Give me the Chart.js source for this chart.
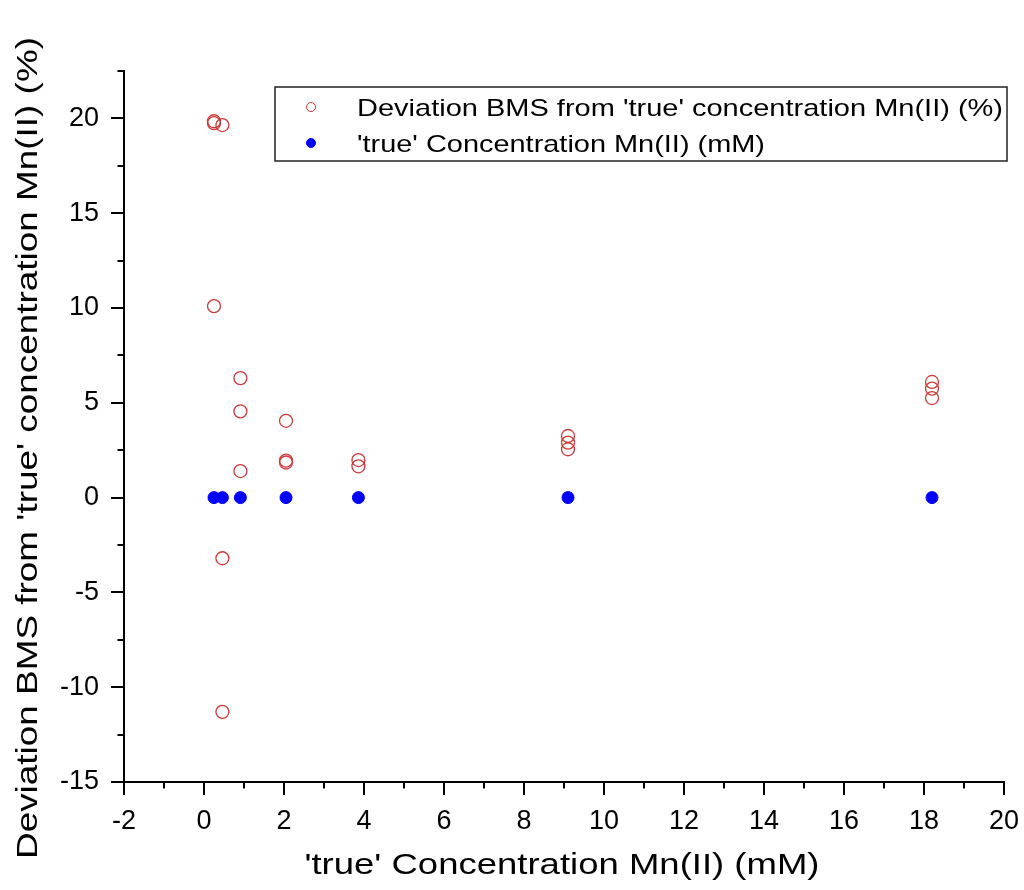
<!DOCTYPE html>
<html>
<head>
<meta charset="utf-8">
<script src="https://cdn.jsdelivr.net/npm/chart.js@4.4.1/dist/chart.umd.min.js"></script>
<style>
  html, body { margin: 0; padding: 0; background: #fff; }
  #wrap { width: 1024px; height: 890px; }
</style>
</head>
<body>
<div id="wrap"><canvas id="c" width="1024" height="890"></canvas></div>
<script>
// 'true' Mn(II) concentrations (mM) and the BMS deviation measured at each
const devX = [0.25, 0.25, 0.46, 0.25, 0.46, 0.46, 0.91, 0.91, 0.91, 2.05, 2.05, 2.05, 3.86, 3.86, 9.1, 9.1, 9.1, 18.2, 18.2, 18.2];
const devY = [19.85, 19.75, 19.65, 10.1, -3.2, -11.3, 6.3, 4.55, 1.4, 4.05, 1.95, 1.85, 1.98, 1.65, 3.25, 2.9, 2.55, 6.1, 5.75, 5.25];
const concX = [0.25, 0.46, 0.91, 2.05, 3.86, 9.1, 18.2];
const concY = [0, 0, 0, 0, 0, 0, 0];

const xTicks = [-2, 0, 2, 4, 6, 8, 10, 12, 14, 16, 18, 20];
const yTicks = [-15, -10, -5, 0, 5, 10, 15, 20];

const seriesLabels = ["Deviation BMS from 'true' concentration Mn(II) (%)", "'true' Concentration Mn(II) (mM)"];
const xTitle = "'true' Concentration Mn(II) (mM)";
const yTitle = "Deviation BMS from 'true' concentration Mn(II) (%)";

const FONT = "'Liberation Sans', Arial, sans-serif";
const RED = '#c83a3a';
const BLUE = '#0000ff';

const toPts = (xs, ys) => xs.map((x, i) => ({ x: x, y: ys[i] }));

// text drawn with a horizontal stretch so that it spans a given length
function wideText(ctx, text, size, cx, cy, span, align, angle) {
  ctx.save();
  ctx.font = size + 'px ' + FONT;
  const w = ctx.measureText(text).width;
  const k = span / w;
  ctx.translate(cx, cy);
  ctx.rotate(angle || 0);
  ctx.scale(k, 1);
  ctx.fillStyle = '#000';
  ctx.textBaseline = 'alphabetic';
  ctx.textAlign = align;
  ctx.fillText(text, 0, 0);
  ctx.restore();
}

// outward tick marks: long for labelled values, short for the minor ones
const tickMarks = {
  id: 'tickMarks',
  afterDraw(chart) {
    const ctx = chart.ctx;
    ctx.save();
    ctx.strokeStyle = '#000';
    ctx.lineWidth = 2;
    const xs = chart.scales.x, ys = chart.scales.y;
    xs.ticks.forEach(t => {
      const px = Math.round(xs.getPixelForValue(t.value));
      const len = xTicks.includes(t.value) ? 13 : 6.5;
      ctx.beginPath();
      ctx.moveTo(px, xs.top);
      ctx.lineTo(px, xs.top + len);
      ctx.stroke();
    });
    ys.ticks.forEach(t => {
      const py = Math.round(ys.getPixelForValue(t.value));
      const len = yTicks.includes(t.value) ? 13 : 6.5;
      ctx.beginPath();
      ctx.moveTo(ys.right, py);
      ctx.lineTo(ys.right - len, py);
      ctx.stroke();
    });
    ctx.restore();
  }
};

// axis titles
const axisTitles = {
  id: 'axisTitles',
  afterDraw(chart) {
    const ctx = chart.ctx;
    wideText(ctx, xTitle, 30, 562, 874, 515, 'center', 0);
    wideText(ctx, yTitle, 30, 37, 448, 822, 'center', -Math.PI / 2);
  }
};

// boxed legend inside the plot area
const boxLegend = {
  id: 'boxLegend',
  afterDraw(chart) {
    const ctx = chart.ctx;
    const left = 275, top = 87, width = 732, height = 74, rowH = 36;
    const sets = chart.data.datasets;
    ctx.save();
    ctx.fillStyle = '#fff';
    ctx.fillRect(left, top, width, height);
    ctx.strokeStyle = '#222';
    ctx.lineWidth = 1.5;
    ctx.strokeRect(left, top, width, height);
    ctx.restore();
    const spans = [646, 408];
    sets.forEach((ds, i) => {
      const cy = top + 20 + i * rowH;
      ctx.save();
      ctx.fillStyle = ds.backgroundColor;
      ctx.strokeStyle = ds.borderColor;
      Chart.helpers.drawPoint(ctx, { pointStyle: 'circle', radius: 4.5, borderWidth: 1 }, 311, cy);
      ctx.restore();
      wideText(ctx, ds.label, 24, 357, cy + 8.5, spans[i], 'left', 0);
    });
  }
};

new Chart(document.getElementById('c'), {
  type: 'scatter',
  data: {
    datasets: [
      {
        label: seriesLabels[0],
        data: toPts(devX, devY),
        pointRadius: 6.5,
        pointHoverRadius: 6.5,
        pointBorderWidth: 1.3,
        borderColor: RED,
        backgroundColor: 'rgba(255,255,255,0)',
        pointBackgroundColor: 'rgba(255,255,255,0)'
      },
      {
        label: seriesLabels[1],
        data: toPts(concX, concY),
        pointRadius: 6,
        pointHoverRadius: 6,
        pointBorderWidth: 1,
        borderColor: BLUE,
        backgroundColor: BLUE
      }
    ]
  },
  options: {
    responsive: false,
    animation: false,
    events: [],
    layout: { padding: { top: 71, right: 5, left: 0, bottom: 0 } },
    plugins: { legend: { display: false }, tooltip: { enabled: false } },
    scales: {
      x: {
        type: 'linear',
        min: -2, max: 20,
        grid: { display: false, drawTicks: false },
        border: { display: true, color: '#000', width: 2 },
        ticks: {
          stepSize: 1,
          autoSkip: false,
          maxRotation: 0,
          padding: 23,
          color: '#000',
          font: { family: FONT, size: 27 },
          callback: v => (xTicks.includes(v) ? String(v) : '')
        },
        afterFit: s => { s.height = 108; s.paddingRight = 20; s.paddingLeft = 0; }
      },
      y: {
        type: 'linear',
        min: -15, max: 22.5,
        grid: { display: false, drawTicks: false },
        border: { display: true, color: '#000', width: 2 },
        ticks: {
          stepSize: 2.5,
          autoSkip: false,
          padding: 25,
          color: '#000',
          font: { family: FONT, size: 27 },
          callback: v => (yTicks.includes(v) ? String(v) : '')
        },
        afterFit: s => { s.width = 124; s.paddingTop = 0; s.paddingBottom = 0; }
      }
    }
  },
  plugins: [tickMarks, axisTitles, boxLegend]
});
</script>
</body>
</html>
